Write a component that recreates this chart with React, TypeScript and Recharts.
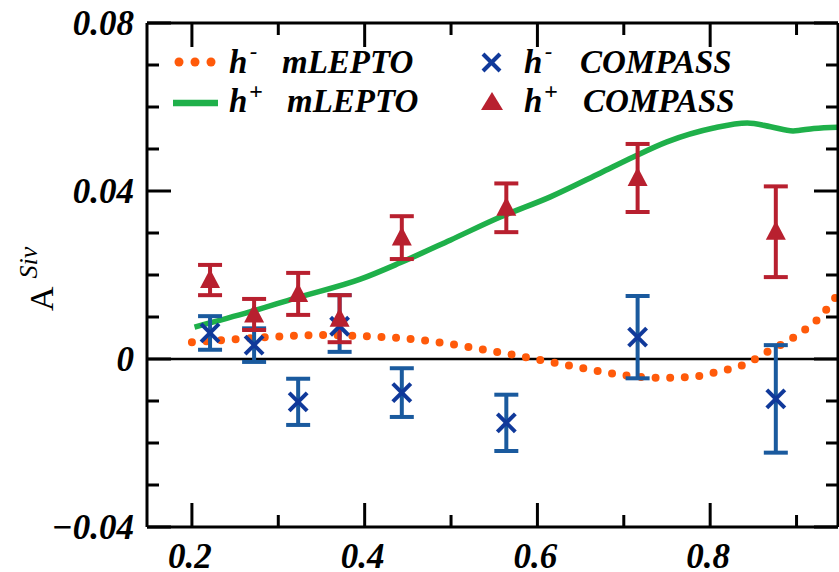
import React from 'react';
import {
  ComposedChart,
  Line,
  Scatter,
  XAxis,
  YAxis,
  ErrorBar,
  ReferenceLine,
  Legend,
  Label,
} from 'recharts';

// ---------- data ----------
const xTicks = [0.2, 0.3, 0.4, 0.5, 0.6, 0.7, 0.8, 0.9];
const xTickLabels = ['0.2', '', '0.4', '', '0.6', '', '0.8', ''];
const yTicks = [-0.04, -0.03, -0.02, -0.01, 0, 0.01, 0.02, 0.03, 0.04, 0.05, 0.06, 0.07, 0.08];
const yTickLabels = ['\u22120.04', '', '', '', '0', '', '', '', '0.04', '', '', '', '0.08'];

// h- mLEPTO (orange dotted curve)
const hMinusLeptoX = [0.2, 0.245, 0.287, 0.345, 0.403, 0.441, 0.491, 0.542, 0.592, 0.641, 0.692, 0.742, 0.777, 0.808, 0.843, 0.866, 0.901, 0.927, 0.948];
const hMinusLeptoY = [0.004, 0.0046, 0.0052, 0.0057, 0.0054, 0.005, 0.0038, 0.0021, 0.0002, -0.0017, -0.0036, -0.0045, -0.0043, -0.0031, -0.001, 0.0017, 0.0057, 0.01, 0.0155];

// h+ mLEPTO (green solid curve)
const hPlusLeptoX = [0.203, 0.267, 0.32, 0.395, 0.441, 0.499, 0.557, 0.615, 0.673, 0.711, 0.75, 0.804, 0.843, 0.87, 0.896, 0.92, 0.948];
const hPlusLeptoY = [0.0076, 0.0112, 0.0145, 0.019, 0.0229, 0.0283, 0.0338, 0.0386, 0.0443, 0.0481, 0.0517, 0.055, 0.0562, 0.0553, 0.0543, 0.0549, 0.0552];

// COMPASS points
const compassX = [0.221, 0.272, 0.323, 0.371, 0.443, 0.564, 0.716, 0.876];
const hMinusCompassY = [0.0062, 0.0033, -0.0102, 0.0078, -0.008, -0.0152, 0.0052, -0.0095];
const hMinusCompassErrLow = [0.004, 0.004, 0.0055, 0.0061, 0.0058, 0.0067, 0.0098, 0.0128];
const hMinusCompassErrHigh = [0.004, 0.004, 0.0055, 0.0074, 0.0058, 0.0067, 0.0098, 0.0128];
const hPlusCompassY = [0.0188, 0.0106, 0.0155, 0.0096, 0.0289, 0.036, 0.0431, 0.0303];
const hPlusCompassErr = [0.0036, 0.0037, 0.005, 0.0056, 0.0051, 0.0058, 0.0081, 0.0108];

// ---------- derived tables ----------
const orangeData = hMinusLeptoX.map((x, i) => ({ x, y: hMinusLeptoY[i] }));
const greenData = hPlusLeptoX.map((x, i) => ({ x, y: hPlusLeptoY[i] }));
const blueData = compassX.map((x, i) => ({
  x,
  y: hMinusCompassY[i],
  err: [hMinusCompassErrLow[i], hMinusCompassErrHigh[i]],
}));
const redData = compassX.map((x, i) => ({ x, y: hPlusCompassY[i], err: hPlusCompassErr[i] }));

// ---------- styles ----------
const FONT = '"Liberation Serif", "Times New Roman", serif';
const ORANGE = '#ff5a0a';
const GREEN = '#1fb04a';
const BLUE_BAR = '#1a5a9e';
const BLUE_MARK = '#10399a';
const RED = '#b8202f';
const MAJOR = 24;
const MINOR = 12;

const findLabel = (ticks: number[], labels: string[], v: number) => {
  const i = ticks.findIndex((t) => Math.abs(t - v) < 1e-9);
  return i >= 0 ? labels[i] : '';
};

const BottomTick = (props: any) => {
  const { x, y, payload } = props;
  const label = findLabel(xTicks, xTickLabels, payload.value);
  const len = label ? MAJOR : MINOR;
  return (
    <g>
      <line x1={x} x2={x} y1={y} y2={y - len} stroke="#000" strokeWidth={3} />
      {label ? (
        <text x={x - 2} y={y + 41} textAnchor="middle" fontFamily={FONT} fontWeight="bold" fontStyle="italic" fontSize={35} fill="#000">
          {label}
        </text>
      ) : null}
    </g>
  );
};

const TopTick = (props: any) => {
  const { x, y, payload } = props;
  const label = findLabel(xTicks, xTickLabels, payload.value);
  const len = label ? MAJOR : MINOR;
  return <line x1={x} x2={x} y1={y} y2={y + len} stroke="#000" strokeWidth={3} />;
};

const LeftTick = (props: any) => {
  const { x, y, payload } = props;
  const label = findLabel(yTicks, yTickLabels, payload.value);
  const len = label ? MAJOR : MINOR;
  return (
    <g>
      <line x1={x} x2={x + len} y1={y} y2={y} stroke="#000" strokeWidth={3} />
      {label ? (
        <text x={x - 13} y={y + 12} textAnchor="end" fontFamily={FONT} fontWeight="bold" fontStyle="italic" fontSize={35} fill="#000">
          {label}
        </text>
      ) : null}
    </g>
  );
};

const RightTick = (props: any) => {
  const { x, y, payload } = props;
  const label = findLabel(yTicks, yTickLabels, payload.value);
  const len = label ? MAJOR : MINOR;
  return <line x1={x} x2={x - len} y1={y} y2={y} stroke="#000" strokeWidth={3} />;
};

const CrossShape = (props: any) => {
  const { cx, cy } = props;
  const s = 9;
  return (
    <g>
      <line x1={cx - s} y1={cy - s} x2={cx + s} y2={cy + s} stroke={BLUE_MARK} strokeWidth={4} />
      <line x1={cx - s} y1={cy + s} x2={cx + s} y2={cy - s} stroke={BLUE_MARK} strokeWidth={4} />
    </g>
  );
};

const TriangleShape = (props: any) => {
  const { cx, cy } = props;
  const w = 10;
  return <polygon points={`${cx},${cy - 11} ${cx - w},${cy + 8} ${cx + w},${cy + 8}`} fill={RED} />;
};

const legendText = {
  fontFamily: FONT,
  fontWeight: 'bold' as const,
  fontStyle: 'italic' as const,
  fontSize: 33,
  fill: '#000',
};

const renderLegend = () => (
  <svg width={839} height={140} style={{ position: 'absolute', left: 0, top: 0, overflow: 'visible', pointerEvents: 'none' }}>
    {/* row 1, col 1: h- mLEPTO */}
    {[179, 195, 211].map((cx) => (
      <circle key={cx} cx={cx} cy={62} r={4.5} fill={ORANGE} />
    ))}
    <text x={229} y={73} {...legendText}>h</text>
    <text x={250} y={58} {...legendText} fontSize={22}>-</text>
    <text x={282} y={73} {...legendText}>mLEPTO</text>
    {/* row 2, col 1: h+ mLEPTO */}
    <line x1={173} x2={218} y1={103} y2={103} stroke={GREEN} strokeWidth={6.5} />
    <text x={229} y={112} {...legendText}>h</text>
    <text x={249} y={99} {...legendText} fontSize={24}>+</text>
    <text x={287} y={112} {...legendText}>mLEPTO</text>
    {/* row 1, col 2: h- COMPASS */}
    <line x1={483} y1={54} x2={500} y2={71} stroke={BLUE_MARK} strokeWidth={4} />
    <line x1={483} y1={71} x2={500} y2={54} stroke={BLUE_MARK} strokeWidth={4} />
    <text x={524} y={73} {...legendText}>h</text>
    <text x={545} y={58} {...legendText} fontSize={22}>-</text>
    <text x={580} y={73} {...legendText}>COMPASS</text>
    {/* row 2, col 2: h+ COMPASS */}
    <polygon points="492,92 481,110 503,110" fill={RED} />
    <text x={524} y={112} {...legendText}>h</text>
    <text x={544} y={99} {...legendText} fontSize={24}>+</text>
    <text x={583} y={112} {...legendText}>COMPASS</text>
  </svg>
);

const renderYLabel = () => (
  <text x={53} y={311} transform="rotate(-90, 53, 311)" fontFamily={FONT} fontSize={34} fill="#000">
    A
    <tspan dx={8} dy={-16} fontSize={26} fontStyle="italic">Siv</tspan>
  </text>
);

export default function App() {
  return (
    <div style={{ position: 'absolute', left: 0, top: 0, width: 839, height: 572, background: '#fff' }}>
      <ComposedChart width={839} height={572} margin={{ top: 22, right: 0, bottom: 44, left: 146 }}>
        <XAxis
          xAxisId={0}
          type="number"
          dataKey="x"
          domain={[0.148, 0.948]}
          allowDataOverflow
          ticks={xTicks}
          interval={0}
          height={1}
          tickSize={0}
          tickMargin={0}
          tick={<BottomTick />}
          tickLine={false}
          axisLine={{ stroke: '#000', strokeWidth: 3 }}
        />
        <XAxis
          xAxisId="top"
          orientation="top"
          type="number"
          dataKey="x"
          domain={[0.148, 0.948]}
          allowDataOverflow
          ticks={xTicks}
          interval={0}
          height={1}
          tickSize={0}
          tickMargin={0}
          tick={<TopTick />}
          tickLine={false}
          axisLine={{ stroke: '#000', strokeWidth: 3 }}
        />
        <YAxis
          yAxisId={0}
          type="number"
          domain={[-0.04, 0.08]}
          allowDataOverflow
          ticks={yTicks}
          interval={0}
          width={1}
          tickSize={0}
          tickMargin={0}
          tick={<LeftTick />}
          tickLine={false}
          axisLine={{ stroke: '#000', strokeWidth: 3 }}
        >
          <Label content={renderYLabel} />
        </YAxis>
        <YAxis
          yAxisId="right"
          orientation="right"
          type="number"
          domain={[-0.04, 0.08]}
          allowDataOverflow
          ticks={yTicks}
          interval={0}
          width={1}
          tickSize={0}
          tickMargin={0}
          tick={<RightTick />}
          tickLine={false}
          axisLine={{ stroke: '#000', strokeWidth: 3 }}
        />
        <ReferenceLine y={0} stroke="#000" strokeWidth={2.5} />
        <Line
          data={greenData}
          dataKey="y"
          type="monotone"
          stroke={GREEN}
          strokeWidth={5.5}
          dot={false}
          isAnimationActive={false}
        />
        <Line
          data={orangeData}
          dataKey="y"
          type="monotone"
          stroke={ORANGE}
          strokeWidth={8}
          strokeDasharray="0 14.6"
          strokeLinecap="round"
          dot={false}
          isAnimationActive={false}
        />
        <Scatter data={blueData} dataKey="y" shape={<CrossShape />} isAnimationActive={false}>
          <ErrorBar dataKey="err" direction="y" width={12} strokeWidth={4} stroke={BLUE_BAR} />
        </Scatter>
        <Scatter data={redData} dataKey="y" shape={<TriangleShape />} isAnimationActive={false}>
          <ErrorBar dataKey="err" direction="y" width={12} strokeWidth={4} stroke={RED} />
        </Scatter>
        <Legend content={renderLegend} wrapperStyle={{ position: 'absolute', left: 0, top: 0, width: 0, height: 0 }} />
      </ComposedChart>
    </div>
  );
}
